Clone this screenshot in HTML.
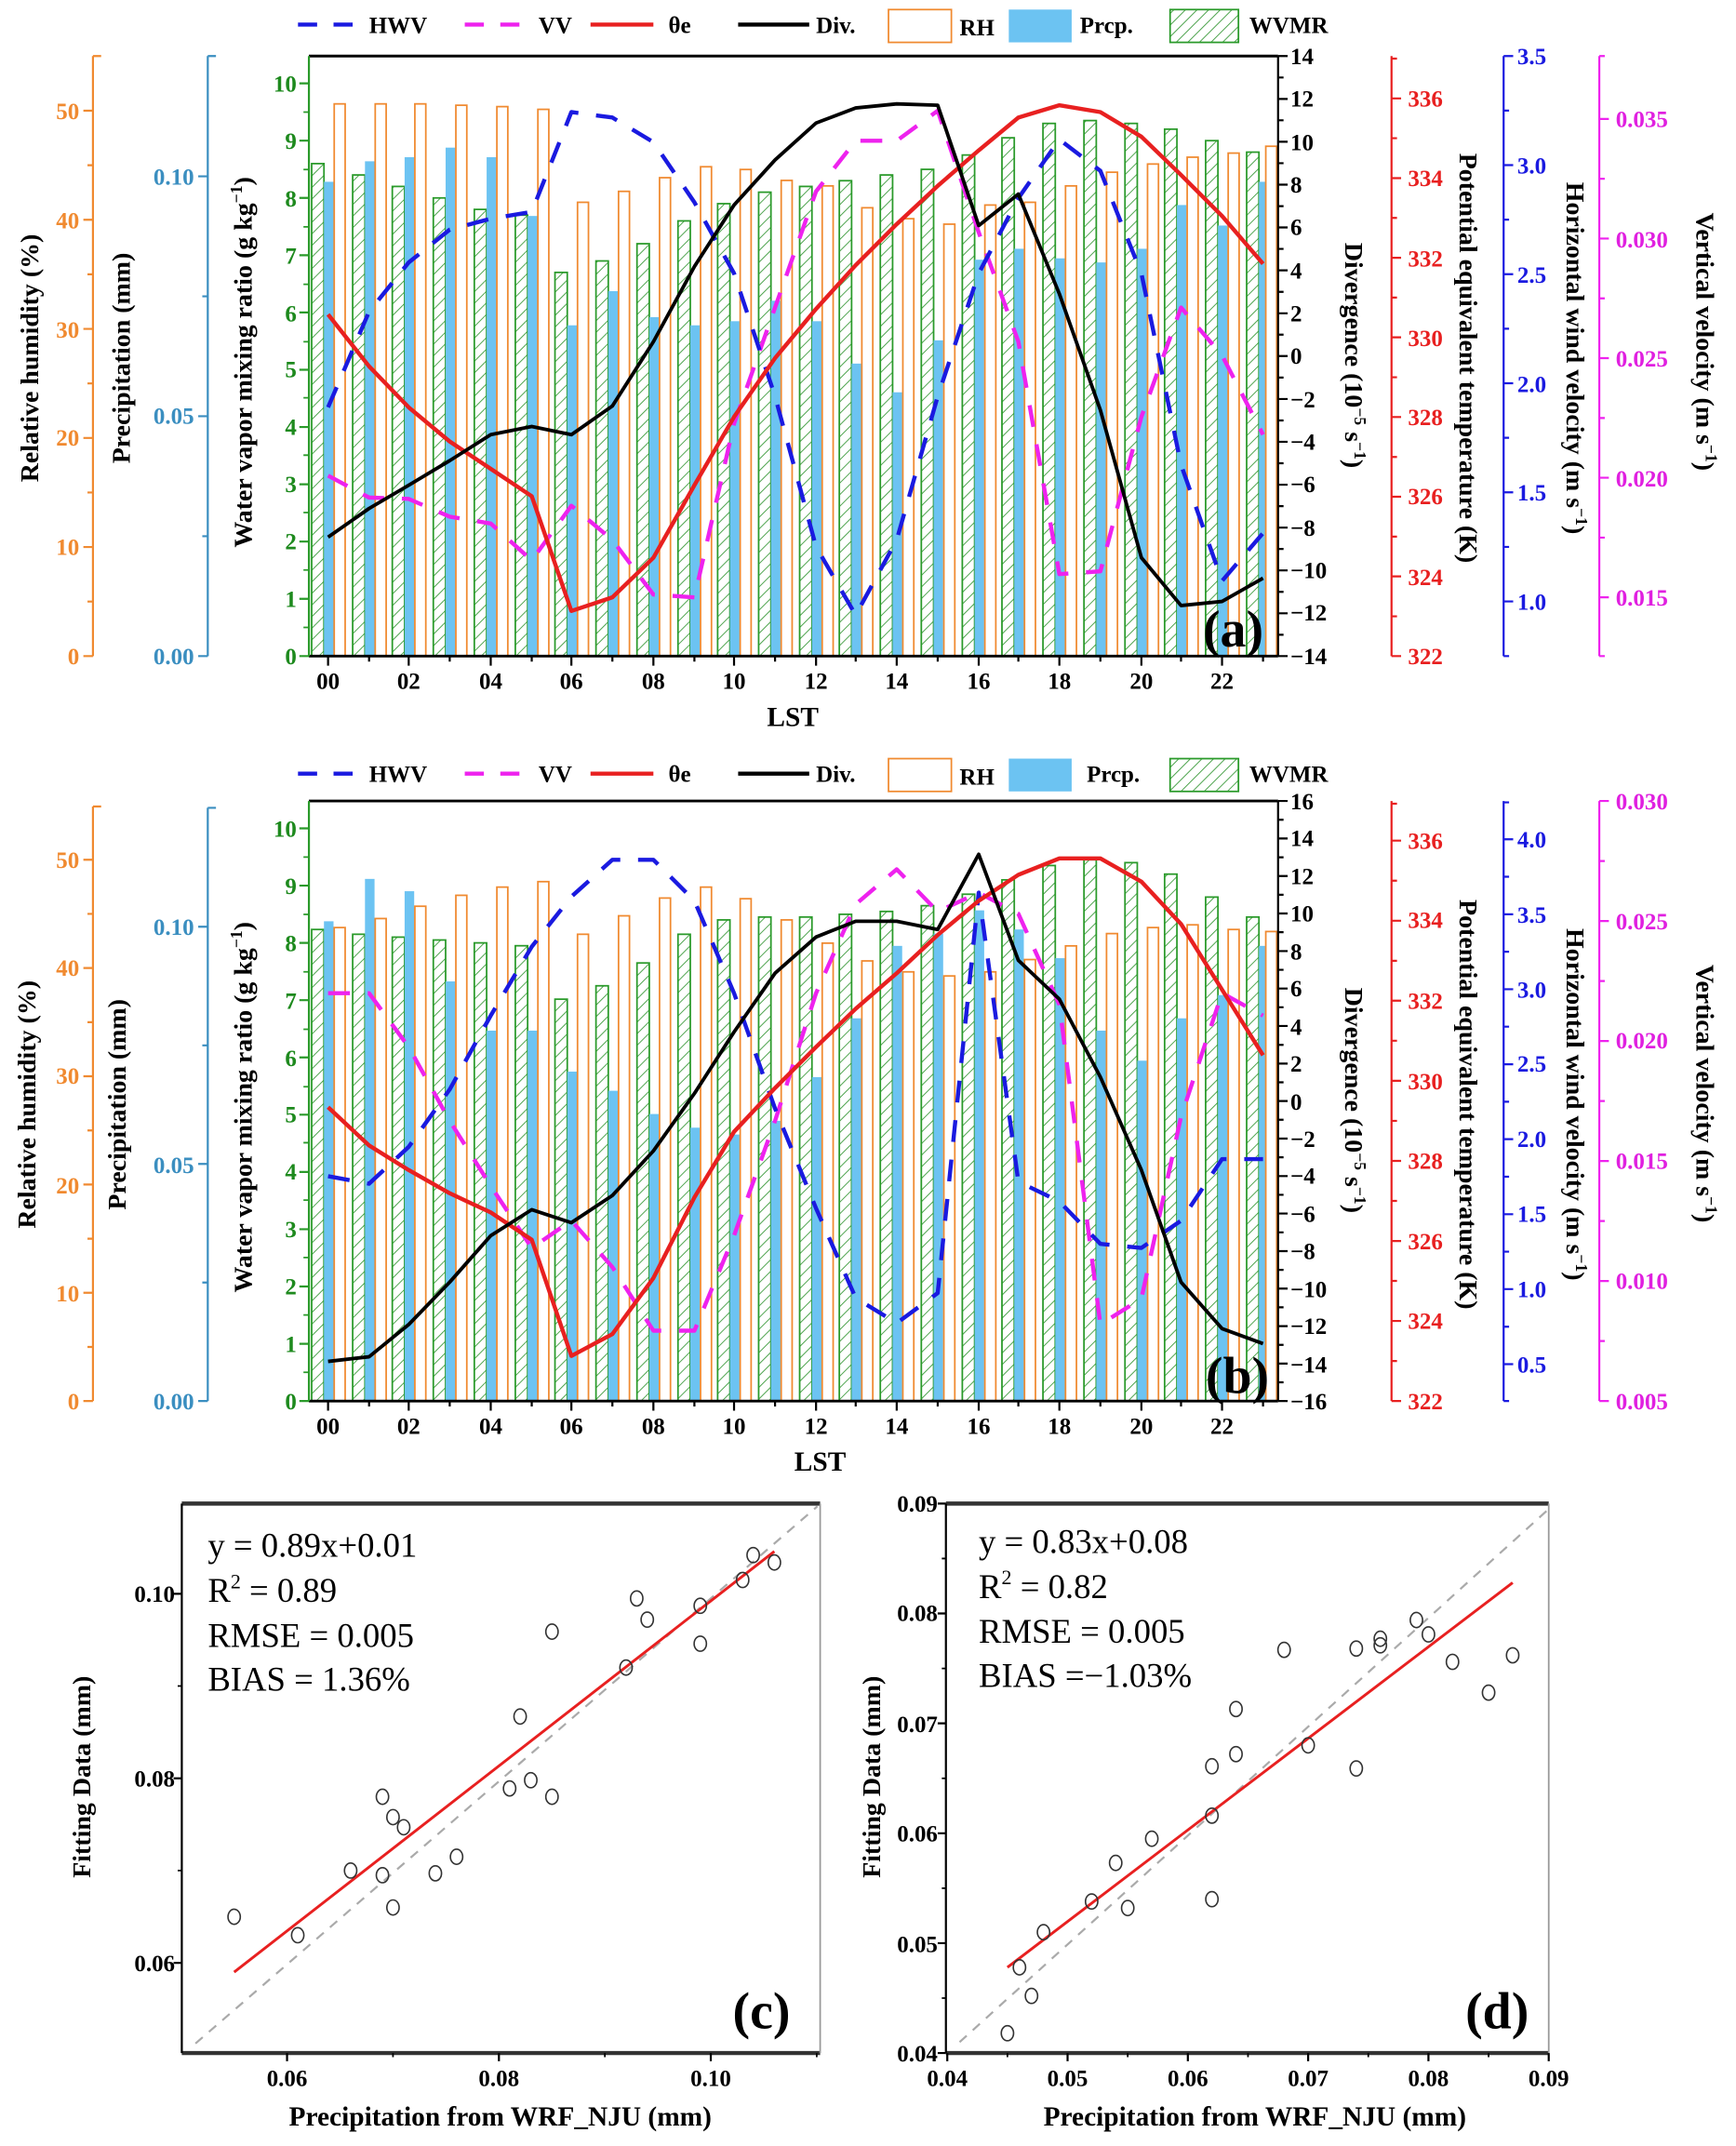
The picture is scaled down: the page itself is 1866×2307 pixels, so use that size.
<!DOCTYPE html>
<html><head><meta charset="utf-8">
<style>
html,body{margin:0;padding:0;background:#fff;}
svg{display:block;}
text{font-family:"Liberation Serif",serif;font-weight:bold;}
.t{font-size:17px;}
.at{font-size:19px;fill:#000;}
.nn text{font-weight:normal;font-size:25px;}
.g{fill:url(#h);stroke:#2a9a2a;stroke-width:1.2}
.p{fill:#6cc3f2}
.o{fill:#fff;stroke:#f08a30;stroke-width:1.2}
.ln{fill:none;stroke-linejoin:round}
.pt{fill:none;stroke:#333;stroke-width:1.1}
</style></head><body>
<svg xmlns="http://www.w3.org/2000/svg" width="1866" height="2307" viewBox="0 0 1270 1570" preserveAspectRatio="none">
<defs>
<pattern id="h" patternUnits="userSpaceOnUse" width="6" height="6" patternTransform="rotate(45)">
<rect width="6" height="6" fill="#fff"/><line x1="0" y1="0" x2="0" y2="6" stroke="#3a9a3a" stroke-width="1.2"/>
</pattern>
<clipPath id="ca"><rect x="226" y="41" width="709" height="439"/></clipPath>
<clipPath id="cb"><rect x="226" y="586" width="709" height="439"/></clipPath>
</defs>

<!-- Legends -->
<g>
<path d="M218 18H262" stroke="#1a1ae0" stroke-width="3" stroke-dasharray="14,12"/>
<path d="M340 18H384" stroke="#ee22ee" stroke-width="3" stroke-dasharray="14,12"/>
<path d="M432 18H478" stroke="#e82020" stroke-width="3"/>
<path d="M540 18H592" stroke="#000" stroke-width="3"/>
<rect x="650" y="7" width="46" height="24" class="o" stroke-width="1.5"/>
<rect x="738" y="7" width="46" height="24" class="p"/>
<rect x="856" y="7" width="50" height="24" class="g" stroke-width="1.5"/>
<path d="M218 566H262" stroke="#1a1ae0" stroke-width="3" stroke-dasharray="14,12"/>
<path d="M340 566H384" stroke="#ee22ee" stroke-width="3" stroke-dasharray="14,12"/>
<path d="M432 566H478" stroke="#e82020" stroke-width="3"/>
<path d="M540 566H592" stroke="#000" stroke-width="3"/>
<rect x="650" y="555" width="46" height="24" class="o" stroke-width="1.5"/>
<rect x="738" y="555" width="46" height="24" class="p"/>
<rect x="856" y="555" width="50" height="24" class="g" stroke-width="1.5"/>
</g>
<g class="t">
<text x="270" y="24">HWV</text><text x="394" y="24">VV</text><text x="489" y="24">θe</text><text x="597" y="24">Div.</text><text x="702" y="26">RH</text><text x="790" y="24">Prcp.</text><text x="914" y="24">WVMR</text>
<text x="270" y="572">HWV</text><text x="394" y="572">VV</text><text x="489" y="572">θe</text><text x="597" y="572">Div.</text><text x="702" y="574">RH</text><text x="795" y="572">Prcp.</text><text x="914" y="572">WVMR</text>
</g>

<!-- ===== Panel (a) bars ===== -->
<g clip-path="url(#ca)">
<g>
<rect class="g" x="228" y="119.7" width="9" height="600"/><rect class="g" x="258" y="128" width="9" height="600"/><rect class="g" x="287" y="136.4" width="9" height="600"/><rect class="g" x="317" y="144.8" width="9" height="600"/><rect class="g" x="347" y="153.2" width="9" height="600"/><rect class="g" x="377" y="157.4" width="9" height="600"/><rect class="g" x="406" y="199.3" width="9" height="600"/><rect class="g" x="436" y="190.9" width="9" height="600"/><rect class="g" x="466" y="178.3" width="9" height="600"/><rect class="g" x="496" y="161.6" width="9" height="600"/><rect class="g" x="525" y="149" width="9" height="600"/><rect class="g" x="555" y="140.6" width="9" height="600"/><rect class="g" x="585" y="136.4" width="9" height="600"/><rect class="g" x="614" y="132.2" width="9" height="600"/><rect class="g" x="644" y="128" width="9" height="600"/><rect class="g" x="674" y="123.9" width="9" height="600"/><rect class="g" x="704" y="113.4" width="9" height="600"/><rect class="g" x="733" y="100.8" width="9" height="600"/><rect class="g" x="763" y="90.3" width="9" height="600"/><rect class="g" x="793" y="88.2" width="9" height="600"/><rect class="g" x="823" y="90.3" width="9" height="600"/><rect class="g" x="852" y="94.5" width="9" height="600"/><rect class="g" x="882" y="102.9" width="9" height="600"/><rect class="g" x="912" y="111.3" width="9" height="600"/>
</g>
<g>
<rect class="p" x="237" y="133" width="7" height="600"/><rect class="p" x="267" y="118" width="7" height="600"/><rect class="p" x="296" y="115" width="7" height="600"/><rect class="p" x="326" y="108" width="7" height="600"/><rect class="p" x="356" y="115" width="7" height="600"/><rect class="p" x="386" y="158" width="7" height="600"/><rect class="p" x="415" y="238" width="7" height="600"/><rect class="p" x="445" y="213" width="7" height="600"/><rect class="p" x="475" y="232" width="7" height="600"/><rect class="p" x="505" y="238" width="7" height="600"/><rect class="p" x="534" y="235" width="7" height="600"/><rect class="p" x="564" y="220" width="7" height="600"/><rect class="p" x="594" y="235" width="7" height="600"/><rect class="p" x="623" y="266" width="7" height="600"/><rect class="p" x="653" y="287" width="7" height="600"/><rect class="p" x="683" y="249" width="7" height="600"/><rect class="p" x="713" y="190" width="7" height="600"/><rect class="p" x="742" y="182" width="7" height="600"/><rect class="p" x="772" y="189" width="7" height="600"/><rect class="p" x="802" y="192" width="7" height="600"/><rect class="p" x="832" y="182" width="7" height="600"/><rect class="p" x="861" y="150" width="7" height="600"/><rect class="p" x="891" y="165" width="7" height="600"/><rect class="p" x="921" y="133" width="7" height="600"/>
</g>
<g>
<rect class="o" x="244.5" y="76" width="8" height="600"/><rect class="o" x="274.5" y="76" width="8" height="600"/><rect class="o" x="303.5" y="76" width="8" height="600"/><rect class="o" x="333.5" y="77" width="8" height="600"/><rect class="o" x="363.5" y="78" width="8" height="600"/><rect class="o" x="393.5" y="80" width="8" height="600"/><rect class="o" x="422.5" y="148" width="8" height="600"/><rect class="o" x="452.5" y="140" width="8" height="600"/><rect class="o" x="482.5" y="130" width="8" height="600"/><rect class="o" x="512.5" y="122" width="8" height="600"/><rect class="o" x="541.5" y="124" width="8" height="600"/><rect class="o" x="571.5" y="132" width="8" height="600"/><rect class="o" x="601.5" y="136" width="8" height="600"/><rect class="o" x="630.5" y="152" width="8" height="600"/><rect class="o" x="660.5" y="160" width="8" height="600"/><rect class="o" x="690.5" y="164" width="8" height="600"/><rect class="o" x="720.5" y="150" width="8" height="600"/><rect class="o" x="749.5" y="148" width="8" height="600"/><rect class="o" x="779.5" y="136" width="8" height="600"/><rect class="o" x="809.5" y="126" width="8" height="600"/><rect class="o" x="839.5" y="120" width="8" height="600"/><rect class="o" x="868.5" y="115" width="8" height="600"/><rect class="o" x="898.5" y="112" width="8" height="600"/><rect class="o" x="926" y="107" width="8" height="600"/>
</g>
<polyline class="ln" stroke="#ee22ee" stroke-width="3" stroke-dasharray="16,13" points="240,348 270,364 299,365 329,378 359,383 389,410 418,370 448,395 478,435 508,437 537,310 567,225 597,140 626,103 656,103 686,81 716,170 745,250 775,420 805,418 835,305 864,225 894,260 924,318"/>
<polyline class="ln" stroke="#1a1ae0" stroke-width="3" stroke-dasharray="16,13" points="240,298 270,228 299,192 329,168 359,160 389,155 418,82 448,86 478,104 508,148 537,200 567,290 597,400 626,450 656,395 686,290 716,200 745,145 775,102 805,125 835,200 864,340 894,425 924,390"/>
<polyline class="ln" stroke="#e82020" stroke-width="3" points="240,230 270,268 299,298 329,323 359,343 389,363 418,447 448,437 478,408 508,355 537,305 567,262 597,226 626,194 656,164 686,136 716,110 745,86 775,77 805,82 835,100 864,128 894,158 924,193"/>
<polyline class="ln" stroke="#000" stroke-width="2.6" points="240,393 270,372 299,355 329,337 359,318 389,312 418,318 448,297 478,250 508,195 537,150 567,117 597,90 626,79 656,76 686,77 716,165 745,142 775,215 805,300 835,408 864,443 894,440 924,423"/>
</g>
<!-- frame a -->
<path d="M226 41H935M226 480H935" stroke="#000" stroke-width="2"/>
<path d="M935 41V480" stroke="#000" stroke-width="1.5"/>
<path d="M226 41V480" stroke="#2a9a2a" stroke-width="1.5"/>
<path d="M226 480h-7M226 438.1h-7M226 396.2h-7M226 354.3h-7M226 312.4h-7M226 270.5h-7M226 228.6h-7M226 186.7h-7M226 144.8h-7M226 102.9h-7M226 61h-7" stroke="#2a9a2a" stroke-width="1.5"/>
<path d="M226 459h-4M226 417h-4M226 375h-4M226 333h-4M226 291h-4M226 250h-4M226 208h-4M226 166h-4M226 124h-4M226 82h-4" stroke="#2a9a2a" stroke-width="1.2"/>
<path d="M240 480v7M270 480v4M299 480v7M329 480v4M359 480v7M389 480v4M418 480v7M448 480v4M478 480v7M508 480v4M537 480v7M567 480v4M597 480v7M626 480v4M656 480v7M686 480v4M716 480v7M745 480v4M775 480v7M805 480v4M835 480v7M864 480v4M894 480v7M924 480v4" stroke="#000" stroke-width="1.5"/>
<path d="M935 41h7M935 72.4h7M935 103.7h7M935 135.1h7M935 166.4h7M935 197.8h7M935 229.2h7M935 260.5h7M935 291.9h7M935 323.2h7M935 354.6h7M935 386h7M935 417.3h7M935 448.7h7M935 480h7M935 56.7h4M935 88h4M935 119.4h4M935 150.8h4M935 182.1h4M935 213.5h4M935 244.8h4M935 276.2h4M935 307.6h4M935 338.9h4M935 370.3h4M935 401.6h4M935 433h4M935 464.4h4" stroke="#000" stroke-width="1.5"/>
<path d="M1018 41V480M1018 480h7M1018 421.7h7M1018 363.4h7M1018 305.1h7M1018 246.8h7M1018 188.6h7M1018 130.3h7M1018 72h7M1018 450.9h4M1018 392.6h4M1018 334.3h4M1018 276h4M1018 217.7h4M1018 159.4h4M1018 101.1h4M1018 42.9h4" stroke="#e82020" stroke-width="1.5"/>
<path d="M1100 41V480M1100 440h7M1100 360.2h7M1100 280.4h7M1100 200.6h7M1100 120.8h7M1100 41h7M1100 400.1h4M1100 320.3h4M1100 240.5h4M1100 160.7h4M1100 80.9h4M1100 480h4" stroke="#1a1ae0" stroke-width="1.5"/>
<path d="M1170 41V480M1170 437h7M1170 349.5h7M1170 262h7M1170 174.5h7M1170 87h7M1170 393.3h4M1170 305.8h4M1170 218.3h4M1170 130.8h4M1170 480h4M1170 41h4" stroke="#ee22ee" stroke-width="1.5"/>
<path d="M68 41V480M68 41h6M68 480h-7M68 400.2h-7M68 320.4h-7M68 240.6h-7M68 160.8h-7M68 81h-7M68 440.1h-4M68 360.3h-4M68 280.5h-4M68 200.7h-4M68 120.9h-4" stroke="#f08a30" stroke-width="1.5"/>
<path d="M152 41V480M152 41h6M152 480h-7M152 304.5h-7M152 129h-7M152 392.3h-4M152 216.8h-4" stroke="#3a8ec0" stroke-width="1.5"/>

<!-- ===== Panel (b) bars ===== -->
<g clip-path="url(#cb)">
<g>
<rect class="g" x="228" y="680" width="9" height="600"/><rect class="g" x="258" y="683.5" width="9" height="600"/><rect class="g" x="287" y="685.6" width="9" height="600"/><rect class="g" x="317" y="687.7" width="9" height="600"/><rect class="g" x="347" y="689.8" width="9" height="600"/><rect class="g" x="377" y="691.9" width="9" height="600"/><rect class="g" x="406" y="731" width="9" height="600"/><rect class="g" x="436" y="721.2" width="9" height="600"/><rect class="g" x="466" y="704.5" width="9" height="600"/><rect class="g" x="496" y="683.5" width="9" height="600"/><rect class="g" x="525" y="673" width="9" height="600"/><rect class="g" x="555" y="670.9" width="9" height="600"/><rect class="g" x="585" y="670.9" width="9" height="600"/><rect class="g" x="614" y="668.9" width="9" height="600"/><rect class="g" x="644" y="666.8" width="9" height="600"/><rect class="g" x="674" y="662.6" width="9" height="600"/><rect class="g" x="704" y="654.2" width="9" height="600"/><rect class="g" x="733" y="643.7" width="9" height="600"/><rect class="g" x="763" y="633.2" width="9" height="600"/><rect class="g" x="793" y="629" width="9" height="600"/><rect class="g" x="823" y="631.1" width="9" height="600"/><rect class="g" x="852" y="639.5" width="9" height="600"/><rect class="g" x="882" y="656.3" width="9" height="600"/><rect class="g" x="912" y="670.9" width="9" height="600"/>
</g>
<g>
<rect class="p" x="237" y="674" width="7" height="600"/><rect class="p" x="267" y="643" width="7" height="600"/><rect class="p" x="296" y="652" width="7" height="600"/><rect class="p" x="326" y="718" width="7" height="600"/><rect class="p" x="356" y="754" width="7" height="600"/><rect class="p" x="386" y="754" width="7" height="600"/><rect class="p" x="415" y="784" width="7" height="600"/><rect class="p" x="445" y="798" width="7" height="600"/><rect class="p" x="475" y="815" width="7" height="600"/><rect class="p" x="505" y="825" width="7" height="600"/><rect class="p" x="534" y="830" width="7" height="600"/><rect class="p" x="564" y="820" width="7" height="600"/><rect class="p" x="594" y="788" width="7" height="600"/><rect class="p" x="623" y="745" width="7" height="600"/><rect class="p" x="653" y="692" width="7" height="600"/><rect class="p" x="683" y="683" width="7" height="600"/><rect class="p" x="713" y="666" width="7" height="600"/><rect class="p" x="742" y="680" width="7" height="600"/><rect class="p" x="772" y="701" width="7" height="600"/><rect class="p" x="802" y="754" width="7" height="600"/><rect class="p" x="832" y="776" width="7" height="600"/><rect class="p" x="861" y="745" width="7" height="600"/><rect class="p" x="891" y="728" width="7" height="600"/><rect class="p" x="921" y="692" width="7" height="600"/>
</g>
<g>
<rect class="o" x="244.5" y="678.6" width="8" height="600"/><rect class="o" x="274.5" y="672" width="8" height="600"/><rect class="o" x="303.5" y="663" width="8" height="600"/><rect class="o" x="333.5" y="655" width="8" height="600"/><rect class="o" x="363.5" y="649" width="8" height="600"/><rect class="o" x="393.5" y="645" width="8" height="600"/><rect class="o" x="422.5" y="683.5" width="8" height="600"/><rect class="o" x="452.5" y="670" width="8" height="600"/><rect class="o" x="482.5" y="657" width="8" height="600"/><rect class="o" x="512.5" y="649" width="8" height="600"/><rect class="o" x="541.5" y="657.5" width="8" height="600"/><rect class="o" x="571.5" y="673" width="8" height="600"/><rect class="o" x="601.5" y="690" width="8" height="600"/><rect class="o" x="630.5" y="703" width="8" height="600"/><rect class="o" x="660.5" y="711" width="8" height="600"/><rect class="o" x="690.5" y="714" width="8" height="600"/><rect class="o" x="720.5" y="711" width="8" height="600"/><rect class="o" x="749.5" y="702" width="8" height="600"/><rect class="o" x="779.5" y="692" width="8" height="600"/><rect class="o" x="809.5" y="683" width="8" height="600"/><rect class="o" x="839.5" y="678.6" width="8" height="600"/><rect class="o" x="868.5" y="676.6" width="8" height="600"/><rect class="o" x="898.5" y="680" width="8" height="600"/><rect class="o" x="926" y="681.5" width="8" height="600"/>
</g>
<polyline class="ln" stroke="#ee22ee" stroke-width="3" stroke-dasharray="16,13" points="240,726.6 270,726.6 299,766 329,820 359,867.6 389,913 418,893 448,927 478,973.5 508,973.5 537,904 567,820 597,726.6 626,661.6 656,636 686,667 716,653 745,668.5 775,735 805,969 835,950 864,817 894,726.6 924,743"/>
<polyline class="ln" stroke="#1a1ae0" stroke-width="3" stroke-dasharray="16,13" points="240,860.5 270,866 299,839 329,797 359,743 389,692.6 418,656 448,629 478,629 508,659 537,726.6 567,811 597,884 626,949.6 656,968 686,946 716,653 745,864.5 775,879 805,910 835,913 864,893 894,848 924,848"/>
<polyline class="ln" stroke="#e82020" stroke-width="3" points="240,810 270,838 299,856 329,873 359,887 389,907 418,992 448,976 478,935 508,876 537,828 567,796 597,766 626,738 656,712 686,684 716,659 745,640 775,628 805,628 835,645 864,676 894,724 924,772"/>
<polyline class="ln" stroke="#000" stroke-width="2.6" points="240,996 270,992.6 299,969 329,938 359,904 389,885 418,894.5 448,874.6 478,842 508,800 537,755 567,712 597,685.5 626,674 656,674 686,680 716,625 745,702.6 775,731 805,788 835,856 864,938 894,972 924,983"/>
</g>
<!-- frame b -->
<path d="M226 586H935M226 1025H935" stroke="#000" stroke-width="2"/>
<path d="M935 586V1025" stroke="#000" stroke-width="1.5"/>
<path d="M226 586V1025" stroke="#2a9a2a" stroke-width="1.5"/>
<path d="M226 1025h-7M226 983.1h-7M226 941.2h-7M226 899.3h-7M226 857.4h-7M226 815.5h-7M226 773.6h-7M226 731.7h-7M226 689.8h-7M226 647.9h-7M226 606h-7" stroke="#2a9a2a" stroke-width="1.5"/>
<path d="M226 1004h-4M226 962h-4M226 920h-4M226 878h-4M226 836h-4M226 795h-4M226 753h-4M226 711h-4M226 669h-4M226 627h-4" stroke="#2a9a2a" stroke-width="1.2"/>
<path d="M240 1025v7M270 1025v4M299 1025v7M329 1025v4M359 1025v7M389 1025v4M418 1025v7M448 1025v4M478 1025v7M508 1025v4M537 1025v7M567 1025v4M597 1025v7M626 1025v4M656 1025v7M686 1025v4M716 1025v7M745 1025v4M775 1025v7M805 1025v4M835 1025v7M864 1025v4M894 1025v7M924 1025v4" stroke="#000" stroke-width="1.5"/>
<path d="M935 586h7M935 613.4h7M935 640.9h7M935 668.3h7M935 695.8h7M935 723.2h7M935 750.6h7M935 778.1h7M935 805.5h7M935 833h7M935 860.4h7M935 887.8h7M935 915.3h7M935 942.7h7M935 970.2h7M935 997.6h7M935 1025h7M935 599.7h4M935 627.2h4M935 654.6h4M935 682h4M935 709.5h4M935 736.9h4M935 764.4h4M935 791.8h4M935 819.2h4M935 846.7h4M935 874.1h4M935 901.6h4M935 929h4M935 956.4h4M935 983.9h4M935 1011.3h4" stroke="#000" stroke-width="1.5"/>
<path d="M1018 586V1025M1018 1025h7M1018 966.4h7M1018 907.9h7M1018 849.3h7M1018 790.7h7M1018 732.1h7M1018 673.6h7M1018 615h7M1018 995.7h4M1018 937.1h4M1018 878.6h4M1018 820h4M1018 761.4h4M1018 702.9h4M1018 644.3h4M1018 588h4" stroke="#e82020" stroke-width="1.5"/>
<path d="M1100 586V1025M1100 998h7M1100 943.1h7M1100 888.3h7M1100 833.4h7M1100 778.6h7M1100 723.7h7M1100 668.9h7M1100 614h7M1100 970.6h4M1100 915.7h4M1100 860.9h4M1100 806h4M1100 751.1h4M1100 696.3h4M1100 641.4h4M1100 1025h4M1100 587h4" stroke="#1a1ae0" stroke-width="1.5"/>
<path d="M1170 586V1025M1170 1025h7M1170 937.2h7M1170 849.4h7M1170 761.6h7M1170 673.8h7M1170 586h7M1170 981.1h4M1170 893.3h4M1170 805.5h4M1170 717.7h4M1170 629.9h4" stroke="#ee22ee" stroke-width="1.5"/>
<path d="M68 590V1025M68 590h6M68 1025h-7M68 945.8h-7M68 866.6h-7M68 787.4h-7M68 708.2h-7M68 629h-7M68 985.4h-4M68 906.2h-4M68 827h-4M68 747.8h-4M68 668.6h-4" stroke="#f08a30" stroke-width="1.5"/>
<path d="M152 591V1025M152 591h6M152 1025h-7M152 851.5h-7M152 678h-7M152 938.3h-4M152 764.8h-4" stroke="#3a8ec0" stroke-width="1.5"/>

<!-- Panel (a) tick labels -->
<g class="t" fill="#1e8a1e" text-anchor="end">
<text x="217" y="486">0</text><text x="217" y="444">1</text><text x="217" y="402">2</text><text x="217" y="360">3</text><text x="217" y="318">4</text><text x="217" y="276">5</text><text x="217" y="235">6</text><text x="217" y="193">7</text><text x="217" y="151">8</text><text x="217" y="109">9</text><text x="217" y="67">10</text>
</g>
<g class="t" fill="#000">
<text x="944" y="47">14</text><text x="944" y="78">12</text><text x="944" y="110">10</text><text x="944" y="141">8</text><text x="944" y="172">6</text><text x="944" y="204">4</text><text x="944" y="235">2</text><text x="944" y="266">0</text><text x="944" y="298">−2</text><text x="944" y="329">−4</text><text x="944" y="360">−6</text><text x="944" y="392">−8</text><text x="944" y="423">−10</text><text x="944" y="454">−12</text><text x="944" y="486">−14</text>
</g>
<g class="t" fill="#e82020">
<text x="1030" y="486">322</text><text x="1030" y="428">324</text><text x="1030" y="369">326</text><text x="1030" y="311">328</text><text x="1030" y="253">330</text><text x="1030" y="195">332</text><text x="1030" y="136">334</text><text x="1030" y="78">336</text>
</g>
<g class="t" fill="#1a1ae0">
<text x="1110" y="446">1.0</text><text x="1110" y="366">1.5</text><text x="1110" y="287">2.0</text><text x="1110" y="207">2.5</text><text x="1110" y="127">3.0</text><text x="1110" y="47">3.5</text>
</g>
<g class="t" fill="#e020e0">
<text x="1182" y="443">0.015</text><text x="1182" y="356">0.020</text><text x="1182" y="268">0.025</text><text x="1182" y="181">0.030</text><text x="1182" y="93">0.035</text>
</g>
<g class="t" fill="#f08a30" text-anchor="end">
<text x="58" y="486">0</text><text x="58" y="406">10</text><text x="58" y="326">20</text><text x="58" y="247">30</text><text x="58" y="167">40</text><text x="58" y="87">50</text>
</g>
<g class="t" fill="#3a8ec0" text-anchor="end">
<text x="142" y="486">0.00</text><text x="142" y="310">0.05</text><text x="142" y="135">0.10</text>
</g>
<g class="t" fill="#000" text-anchor="middle">
<text x="240" y="504">00</text><text x="299" y="504">02</text><text x="359" y="504">04</text><text x="418" y="504">06</text><text x="478" y="504">08</text><text x="537" y="504">10</text><text x="597" y="504">12</text><text x="656" y="504">14</text><text x="716" y="504">16</text><text x="775" y="504">18</text><text x="835" y="504">20</text><text x="894" y="504">22</text>
<text x="580" y="531" style="font-size:20px">LST</text>
</g>
<text x="880" y="473" style="font-size:38px">(a)</text>
<g class="at" text-anchor="middle">
<text transform="translate(28,262) rotate(-90)">Relative humidity (%)</text>
<text transform="translate(95,262) rotate(-90)">Precipitation (mm)</text>
<text transform="translate(184,265) rotate(-90)">Water vapor mixing ratio (g kg<tspan dy="-7" font-size="12">−1</tspan><tspan dy="7">)</tspan></text>
<text transform="translate(984,260) rotate(90)">Divergence (10<tspan dy="-7" font-size="12">−5</tspan><tspan dy="7"> s</tspan><tspan dy="-7" font-size="12">−1</tspan><tspan dy="7">)</tspan></text>
<text transform="translate(1068,262) rotate(90)">Potential equivalent temperature (K)</text>
<text transform="translate(1146,262) rotate(90)">Horizontal wind velocity (m s<tspan dy="-7" font-size="12">−1</tspan><tspan dy="7">)</tspan></text>
<text transform="translate(1241,250) rotate(90)">Vertical velocity (m s<tspan dy="-7" font-size="12">−1</tspan><tspan dy="7">)</tspan></text>
</g>

<!-- Panel (b) tick labels -->
<g class="t" fill="#1e8a1e" text-anchor="end">
<text x="217" y="1031">0</text><text x="217" y="989">1</text><text x="217" y="947">2</text><text x="217" y="905">3</text><text x="217" y="863">4</text><text x="217" y="821">5</text><text x="217" y="780">6</text><text x="217" y="738">7</text><text x="217" y="696">8</text><text x="217" y="654">9</text><text x="217" y="612">10</text>
</g>
<g class="t" fill="#000">
<text x="944" y="592">16</text><text x="944" y="619">14</text><text x="944" y="647">12</text><text x="944" y="674">10</text><text x="944" y="702">8</text><text x="944" y="729">6</text><text x="944" y="757">4</text><text x="944" y="784">2</text><text x="944" y="812">0</text><text x="944" y="839">−2</text><text x="944" y="866">−4</text><text x="944" y="894">−6</text><text x="944" y="921">−8</text><text x="944" y="949">−10</text><text x="944" y="976">−12</text><text x="944" y="1004">−14</text><text x="944" y="1031">−16</text>
</g>
<g class="t" fill="#e82020">
<text x="1030" y="1031">322</text><text x="1030" y="972">324</text><text x="1030" y="914">326</text><text x="1030" y="855">328</text><text x="1030" y="797">330</text><text x="1030" y="738">332</text><text x="1030" y="679">334</text><text x="1030" y="621">336</text>
</g>
<g class="t" fill="#1a1ae0">
<text x="1110" y="1004">0.5</text><text x="1110" y="949">1.0</text><text x="1110" y="894">1.5</text><text x="1110" y="839">2.0</text><text x="1110" y="784">2.5</text><text x="1110" y="730">3.0</text><text x="1110" y="675">3.5</text><text x="1110" y="620">4.0</text>
</g>
<g class="t" fill="#e020e0">
<text x="1182" y="1031">0.005</text><text x="1182" y="943">0.010</text><text x="1182" y="855">0.015</text><text x="1182" y="767">0.020</text><text x="1182" y="680">0.025</text><text x="1182" y="592">0.030</text>
</g>
<g class="t" fill="#f08a30" text-anchor="end">
<text x="58" y="1031">0</text><text x="58" y="952">10</text><text x="58" y="873">20</text><text x="58" y="793">30</text><text x="58" y="714">40</text><text x="58" y="635">50</text>
</g>
<g class="t" fill="#3a8ec0" text-anchor="end">
<text x="142" y="1031">0.00</text><text x="142" y="858">0.05</text><text x="142" y="684">0.10</text>
</g>
<g class="t" fill="#000" text-anchor="middle">
<text x="240" y="1049">00</text><text x="299" y="1049">02</text><text x="359" y="1049">04</text><text x="418" y="1049">06</text><text x="478" y="1049">08</text><text x="537" y="1049">10</text><text x="597" y="1049">12</text><text x="656" y="1049">14</text><text x="716" y="1049">16</text><text x="775" y="1049">18</text><text x="835" y="1049">20</text><text x="894" y="1049">22</text>
<text x="600" y="1076" style="font-size:20px">LST</text>
</g>
<text x="882" y="1019" style="font-size:38px">(b)</text>
<g class="at" text-anchor="middle">
<text transform="translate(26,808) rotate(-90)">Relative humidity (%)</text>
<text transform="translate(92,808) rotate(-90)">Precipitation (mm)</text>
<text transform="translate(184,810) rotate(-90)">Water vapor mixing ratio (g kg<tspan dy="-7" font-size="12">−1</tspan><tspan dy="7">)</tspan></text>
<text transform="translate(984,805) rotate(90)">Divergence (10<tspan dy="-7" font-size="12">−5</tspan><tspan dy="7"> s</tspan><tspan dy="-7" font-size="12">−1</tspan><tspan dy="7">)</tspan></text>
<text transform="translate(1068,808) rotate(90)">Potential equivalent temperature (K)</text>
<text transform="translate(1146,808) rotate(90)">Horizontal wind velocity (m s<tspan dy="-7" font-size="12">−1</tspan><tspan dy="7">)</tspan></text>
<text transform="translate(1241,800) rotate(90)">Vertical velocity (m s<tspan dy="-7" font-size="12">−1</tspan><tspan dy="7">)</tspan></text>
</g>

<!-- ===== Panel (c) ===== -->
<path d="M133 1100H600M133 1502H600" stroke="#333" stroke-width="3"/>
<path d="M133 1100V1502" stroke="#000" stroke-width="1.5"/>
<path d="M600 1100V1502" stroke="#999" stroke-width="1.2"/>
<path d="M133 1436h-6M133 1301h-6M133 1166h-6M210 1502v6M365 1502v6M520 1502v6" stroke="#000" stroke-width="1.5"/>
<path d="M133 1368.5h-3M133 1233.5h-3M287.5 1502v3M442.5 1502v3M597.5 1502v3" stroke="#000" stroke-width="1.2"/>
<path d="M143 1495L598 1102" stroke="#aaa" stroke-width="1.5" stroke-dasharray="7,6"/>
<path d="M171.3 1442.8L566.5 1135" stroke="#e82020" stroke-width="2"/>
<g class="pt">
<ellipse cx="171.3" cy="1402.3" rx="4.5" ry="5.5"/><ellipse cx="217.8" cy="1415.8" rx="4.5" ry="5.5"/><ellipse cx="256.5" cy="1368.5" rx="4.5" ry="5.5"/><ellipse cx="279.8" cy="1314.5" rx="4.5" ry="5.5"/><ellipse cx="279.8" cy="1371.9" rx="4.5" ry="5.5"/><ellipse cx="287.5" cy="1329.4" rx="4.5" ry="5.5"/><ellipse cx="287.5" cy="1395.5" rx="4.5" ry="5.5"/><ellipse cx="295.3" cy="1336.8" rx="4.5" ry="5.5"/><ellipse cx="318.5" cy="1370.5" rx="4.5" ry="5.5"/><ellipse cx="334" cy="1358.4" rx="4.5" ry="5.5"/><ellipse cx="372.8" cy="1308.4" rx="4.5" ry="5.5"/><ellipse cx="380.5" cy="1255.8" rx="4.5" ry="5.5"/><ellipse cx="388.3" cy="1302.4" rx="4.5" ry="5.5"/><ellipse cx="403.8" cy="1193.7" rx="4.5" ry="5.5"/><ellipse cx="403.8" cy="1314.5" rx="4.5" ry="5.5"/><ellipse cx="458" cy="1220" rx="4.5" ry="5.5"/><ellipse cx="465.8" cy="1169.4" rx="4.5" ry="5.5"/><ellipse cx="473.5" cy="1184.9" rx="4.5" ry="5.5"/><ellipse cx="512.3" cy="1174.8" rx="4.5" ry="5.5"/><ellipse cx="512.3" cy="1202.5" rx="4.5" ry="5.5"/><ellipse cx="543.3" cy="1155.9" rx="4.5" ry="5.5"/><ellipse cx="551" cy="1137.7" rx="4.5" ry="5.5"/><ellipse cx="566.5" cy="1143.1" rx="4.5" ry="5.5"/>
</g>
<g class="t" fill="#000">
<text x="128" y="1442" text-anchor="end">0.06</text><text x="128" y="1307" text-anchor="end">0.08</text><text x="128" y="1172" text-anchor="end">0.10</text>
<text x="210" y="1526" text-anchor="middle">0.06</text><text x="365" y="1526" text-anchor="middle">0.08</text><text x="520" y="1526" text-anchor="middle">0.10</text>
</g>
<g class="nn">
<text x="152" y="1139">y = 0.89x+0.01</text>
<text x="152" y="1172">R<tspan dy="-10" font-size="15">2</tspan><tspan dy="10"> = 0.89</tspan></text>
<text x="152" y="1205">RMSE = 0.005</text>
<text x="152" y="1237">BIAS = 1.36%</text>
</g>
<text x="536" y="1484" style="font-size:38px">(c)</text>
<text class="at" transform="translate(66,1300) rotate(-90)" text-anchor="middle">Fitting Data (mm)</text>
<text class="at" x="366" y="1555" text-anchor="middle" style="font-size:20px">Precipitation from WRF_NJU (mm)</text>

<!-- ===== Panel (d) ===== -->
<path d="M692 1100H1133M692 1502H1133" stroke="#333" stroke-width="3"/>
<path d="M692 1100V1502" stroke="#000" stroke-width="1.5"/>
<path d="M1133 1100V1502" stroke="#999" stroke-width="1.2"/>
<path d="M692 1502h-6M692 1421.6h-6M692 1341.2h-6M692 1260.8h-6M692 1180.4h-6M692 1100h-6M693 1502v6M781 1502v6M869 1502v6M957 1502v6M1045 1502v6M1133 1502v6" stroke="#000" stroke-width="1.5"/>
<path d="M692 1461.8h-3M692 1381.4h-3M692 1301h-3M692 1220.6h-3M692 1140.2h-3M737 1502v3M825 1502v3M913 1502v3M1001 1502v3M1089 1502v3" stroke="#000" stroke-width="1.2"/>
<path d="M702 1494L1133 1104" stroke="#aaa" stroke-width="1.5" stroke-dasharray="7,6"/>
<path d="M737 1439.3L1106.6 1157.9" stroke="#e82020" stroke-width="2"/>
<g class="pt">
<ellipse cx="737" cy="1487.5" rx="4.5" ry="5.5"/><ellipse cx="745.8" cy="1439.3" rx="4.5" ry="5.5"/><ellipse cx="754.6" cy="1460.2" rx="4.5" ry="5.5"/><ellipse cx="763.4" cy="1413.6" rx="4.5" ry="5.5"/><ellipse cx="798.6" cy="1391.1" rx="4.5" ry="5.5"/><ellipse cx="816.2" cy="1362.9" rx="4.5" ry="5.5"/><ellipse cx="825" cy="1395.9" rx="4.5" ry="5.5"/><ellipse cx="842.6" cy="1345.2" rx="4.5" ry="5.5"/><ellipse cx="886.6" cy="1292.2" rx="4.5" ry="5.5"/><ellipse cx="886.6" cy="1328.3" rx="4.5" ry="5.5"/><ellipse cx="886.6" cy="1389.4" rx="4.5" ry="5.5"/><ellipse cx="904.2" cy="1250.3" rx="4.5" ry="5.5"/><ellipse cx="904.2" cy="1283.3" rx="4.5" ry="5.5"/><ellipse cx="939.4" cy="1207" rx="4.5" ry="5.5"/><ellipse cx="957" cy="1276.9" rx="4.5" ry="5.5"/><ellipse cx="992.2" cy="1206.1" rx="4.5" ry="5.5"/><ellipse cx="992.2" cy="1293.8" rx="4.5" ry="5.5"/><ellipse cx="1009.8" cy="1203.7" rx="4.5" ry="5.5"/><ellipse cx="1009.8" cy="1198.9" rx="4.5" ry="5.5"/><ellipse cx="1036.2" cy="1185.2" rx="4.5" ry="5.5"/><ellipse cx="1045" cy="1195.7" rx="4.5" ry="5.5"/><ellipse cx="1062.6" cy="1215.8" rx="4.5" ry="5.5"/><ellipse cx="1089" cy="1238.3" rx="4.5" ry="5.5"/><ellipse cx="1106.6" cy="1211" rx="4.5" ry="5.5"/>
</g>
<g class="t" fill="#000" text-anchor="end">
<text x="686" y="1508">0.04</text><text x="686" y="1428">0.05</text><text x="686" y="1347">0.06</text><text x="686" y="1267">0.07</text><text x="686" y="1186">0.08</text><text x="686" y="1106">0.09</text>
</g>
<g class="t" fill="#000" text-anchor="middle">
<text x="693" y="1526">0.04</text><text x="781" y="1526">0.05</text><text x="869" y="1526">0.06</text><text x="957" y="1526">0.07</text><text x="1045" y="1526">0.08</text><text x="1133" y="1526">0.09</text>
</g>
<g class="nn">
<text x="716" y="1136">y = 0.83x+0.08</text>
<text x="716" y="1169">R<tspan dy="-10" font-size="15">2</tspan><tspan dy="10"> = 0.82</tspan></text>
<text x="716" y="1202">RMSE = 0.005</text>
<text x="716" y="1234">BIAS =−1.03%</text>
</g>
<text x="1072" y="1484" style="font-size:38px">(d)</text>
<text class="at" transform="translate(644,1300) rotate(-90)" text-anchor="middle">Fitting Data (mm)</text>
<text class="at" x="918" y="1555" text-anchor="middle" style="font-size:20px">Precipitation from WRF_NJU (mm)</text>
</svg>
</body></html>
